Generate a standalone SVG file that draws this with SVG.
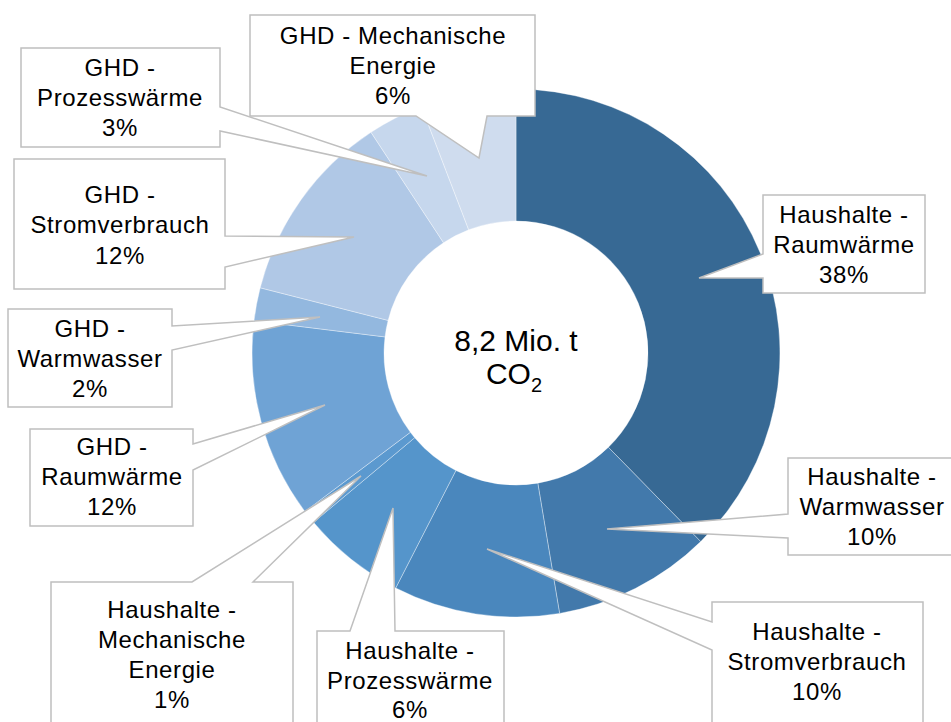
<svg xmlns="http://www.w3.org/2000/svg" width="951" height="722" viewBox="0 0 951 722">
<style>
.seg{stroke:#ffffff;stroke-width:0.6;stroke-opacity:0.6}
.call{fill:#ffffff;stroke:#bfbfbf;stroke-width:1.5;stroke-linejoin:miter}
.lbl{font-family:"Liberation Sans",Arial,sans-serif;font-size:24px;fill:#000;text-anchor:middle;letter-spacing:0.6px}
.ctr{font-family:"Liberation Sans",Arial,sans-serif;font-size:30px;fill:#000;text-anchor:middle}
</style>
<rect width="951" height="722" fill="#ffffff"/>
<g id="donut">
<path id="seg-hh-raum" class="seg" fill="#376994" d="M516,89 A264,264 0 0 1 700.7,541.6 L608.4,447.3 A132,132 0 0 0 516,221 Z"/>
<path id="seg-hh-ww" class="seg" fill="#4279ab" d="M700.7,541.6 A264,264 0 0 1 559.6,613.4 L537.8,483.2 A132,132 0 0 0 608.4,447.3 Z"/>
<path id="seg-hh-strom" class="seg" fill="#4a87bd" d="M559.6,613.4 A264,264 0 0 1 395.7,588 L455.9,470.5 A132,132 0 0 0 537.8,483.2 Z"/>
<path id="seg-hh-prozess" class="seg" fill="#5595cb" d="M395.7,588 A264,264 0 0 1 313.5,522.3 L414.7,437.7 A132,132 0 0 0 455.9,470.5 Z"/>
<path id="seg-hh-mech" class="seg" fill="#5b99cf" d="M313.5,522.3 A264,264 0 0 1 304.9,511.5 L410.4,432.3 A132,132 0 0 0 414.7,437.7 Z"/>
<path id="seg-ghd-raum" class="seg" fill="#6fa3d5" d="M304.9,511.5 A264,264 0 0 1 254,320.8 L385,336.9 A132,132 0 0 0 410.4,432.3 Z"/>
<path id="seg-ghd-ww" class="seg" fill="#93b8df" d="M254,320.8 A264,264 0 0 1 260.2,287.8 L388.1,320.4 A132,132 0 0 0 385,336.9 Z"/>
<path id="seg-ghd-strom" class="seg" fill="#b0c8e6" d="M260.2,287.8 A264,264 0 0 1 371,132.3 L443.5,242.7 A132,132 0 0 0 388.1,320.4 Z"/>
<path id="seg-ghd-prozess" class="seg" fill="#c6d7ed" d="M371,132.3 A264,264 0 0 1 421.4,106.5 L468.7,229.8 A132,132 0 0 0 443.5,242.7 Z"/>
<path id="seg-ghd-mech" class="seg" fill="#cfdcee" d="M421.4,106.5 A264,264 0 0 1 516,89 L516,221 A132,132 0 0 0 468.7,229.8 Z"/>
</g>
<g id="center">
<text class="ctr" x="516" y="351">8,2 Mio. t</text>
<text class="ctr" x="514" y="384">CO<tspan font-size="20" dy="8">2</tspan></text>
</g>
<g id="connectors"></g>
<g id="label-ghd-mech">
<polygon class="call" points="250,15 535,15 535,116 487,116 479,158 416,116 250,116"/>
<text class="lbl" x="393" y="44">GHD - Mechanische</text>
<text class="lbl" x="393" y="74">Energie</text>
<text class="lbl" x="393" y="104">6%</text>
</g>
<g id="label-ghd-prozess">
<polygon class="call" points="21,48 220,48 220,107 427,176 220,131 220,147 21,147"/>
<text class="lbl" x="120" y="76">GHD -</text>
<text class="lbl" x="120" y="106">Prozesswärme</text>
<text class="lbl" x="120" y="136">3%</text>
</g>
<g id="label-ghd-strom">
<polygon class="call" points="14,159 225,159 225,236 354,237 225,267 225,289 14,289"/>
<text class="lbl" x="120" y="203">GHD -</text>
<text class="lbl" x="120" y="233">Stromverbrauch</text>
<text class="lbl" x="120" y="264">12%</text>
</g>
<g id="label-ghd-ww">
<polygon class="call" points="8,309 172,309 172,326 320,317 172,350 172,407 8,407"/>
<text class="lbl" x="90" y="337">GHD -</text>
<text class="lbl" x="90" y="367">Warmwasser</text>
<text class="lbl" x="90" y="397">2%</text>
</g>
<g id="label-ghd-raum">
<polygon class="call" points="30,429 193,429 193,444 325,405 193,470 193,526 30,526"/>
<text class="lbl" x="112" y="455">GHD -</text>
<text class="lbl" x="112" y="485">Raumwärme</text>
<text class="lbl" x="112" y="515">12%</text>
</g>
<g id="label-hh-mech">
<polygon class="call" points="51,582 192,582 361,476 253,582 293,582 293,730 51,730"/>
<text class="lbl" x="172" y="618">Haushalte -</text>
<text class="lbl" x="172" y="648">Mechanische</text>
<text class="lbl" x="172" y="678">Energie</text>
<text class="lbl" x="172" y="708">1%</text>
</g>
<g id="label-hh-prozess">
<polygon class="call" points="317,631 350,631 393,508 395,631 504,631 504,730 317,730"/>
<text class="lbl" x="410" y="659">Haushalte -</text>
<text class="lbl" x="410" y="689">Prozesswärme</text>
<text class="lbl" x="410" y="718">6%</text>
</g>
<g id="label-hh-strom">
<polygon class="call" points="712,602 923,602 923,730 712,730 712,650 487,549 712,622"/>
<text class="lbl" x="817" y="640">Haushalte -</text>
<text class="lbl" x="817" y="670">Stromverbrauch</text>
<text class="lbl" x="817" y="700">10%</text>
</g>
<g id="label-hh-ww">
<polygon class="call" points="788,458 956,458 956,555 788,555 788,538 607,529 788,514"/>
<text class="lbl" x="872" y="485">Haushalte -</text>
<text class="lbl" x="872" y="515">Warmwasser</text>
<text class="lbl" x="872" y="545">10%</text>
</g>
<g id="label-hh-raum">
<polygon class="call" points="763,195 925,195 925,293 763,293 763,278 699,278 763,254"/>
<text class="lbl" x="844" y="223">Haushalte -</text>
<text class="lbl" x="844" y="253">Raumwärme</text>
<text class="lbl" x="844" y="283">38%</text>
</g>
</svg>
